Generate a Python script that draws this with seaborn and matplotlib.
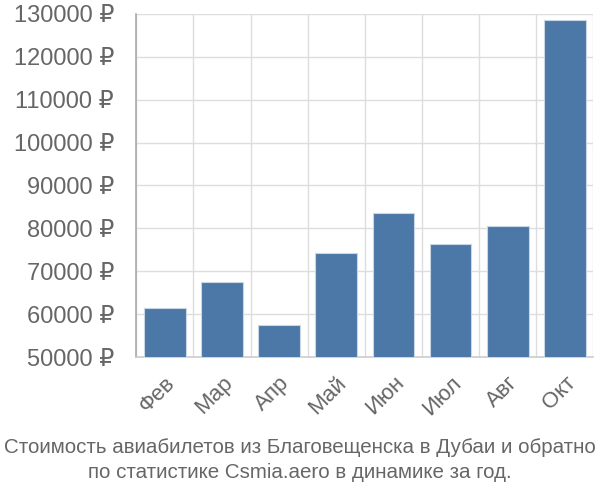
import matplotlib
matplotlib.use("Agg")
import matplotlib.pyplot as plt
import seaborn as sns
import pandas as pd
import numpy as np

months = ["Фев", "Мар", "Апр", "Май", "Июн", "Июл", "Авг", "Окт"]
prices = [61400, 67600, 57500, 74200, 83700, 76300, 80500, 128500]
yticks = [50000, 60000, 70000, 80000, 90000, 100000, 110000, 120000, 130000]
title_lines = ["Стоимость авиабилетов из Благовещенска в Дубаи и обратно",
               "по статистике Csmia.aero в динамике за год."]

sns.set_style("white")
plt.rcParams['font.family'] = ['Liberation Sans', 'DejaVu Sans']

df = pd.DataFrame({"month": months, "price": prices})

fig = plt.figure(figsize=(6, 5), dpi=100)
ax = fig.add_axes([0.227, 0.286, 0.762, 0.686])

sns.barplot(data=df, x="month", y="price", color="#4c78a8", width=0.73,
            edgecolor="#c9d6e6", linewidth=0.8, saturation=1, ax=ax, zorder=3)

ax.set_ylim(50000, 130000)
ax.set_xlim(-0.5, len(months) - 0.5)
ax.set_yticks(yticks)
ax.set_yticklabels([f"{v} ₽" for v in yticks], fontsize=17, color="#666666")
ax.set_xticks(range(len(months)))
ax.set_xticklabels(months, fontsize=16, color="#666666", rotation=45,
                   ha="right", va="top", rotation_mode="anchor")
ax.tick_params(axis="x", length=0, pad=11)
ax.set_xticks(np.arange(-0.5, len(months)), minor=True)
ax.tick_params(axis="x", which="minor", length=12, color="#dddddd", width=1)
ax.tick_params(axis="y", length=16, color="#dddddd", width=1, pad=0)
ax.grid(True, axis="y", color="#dddddd", linewidth=1, zorder=0)
ax.grid(True, axis="x", which="minor", color="#dddddd", linewidth=1, zorder=0)
ax.set_xlabel("")
ax.set_ylabel("")
for s in ["top", "right"]:
    ax.spines[s].set_visible(False)
ax.spines["left"].set_color("#aaaaaa")
ax.spines["left"].set_linewidth(1.2)
ax.spines["bottom"].set_color("#cccccc")
ax.spines["bottom"].set_linewidth(1.2)

fig.text(0.5, 0.105, title_lines[0], ha="center", va="center", fontsize=14.8, color="#666666")
fig.text(0.5, 0.054, title_lines[1], ha="center", va="center", fontsize=14.8, color="#666666")

fig.savefig("out.png", dpi=100)
